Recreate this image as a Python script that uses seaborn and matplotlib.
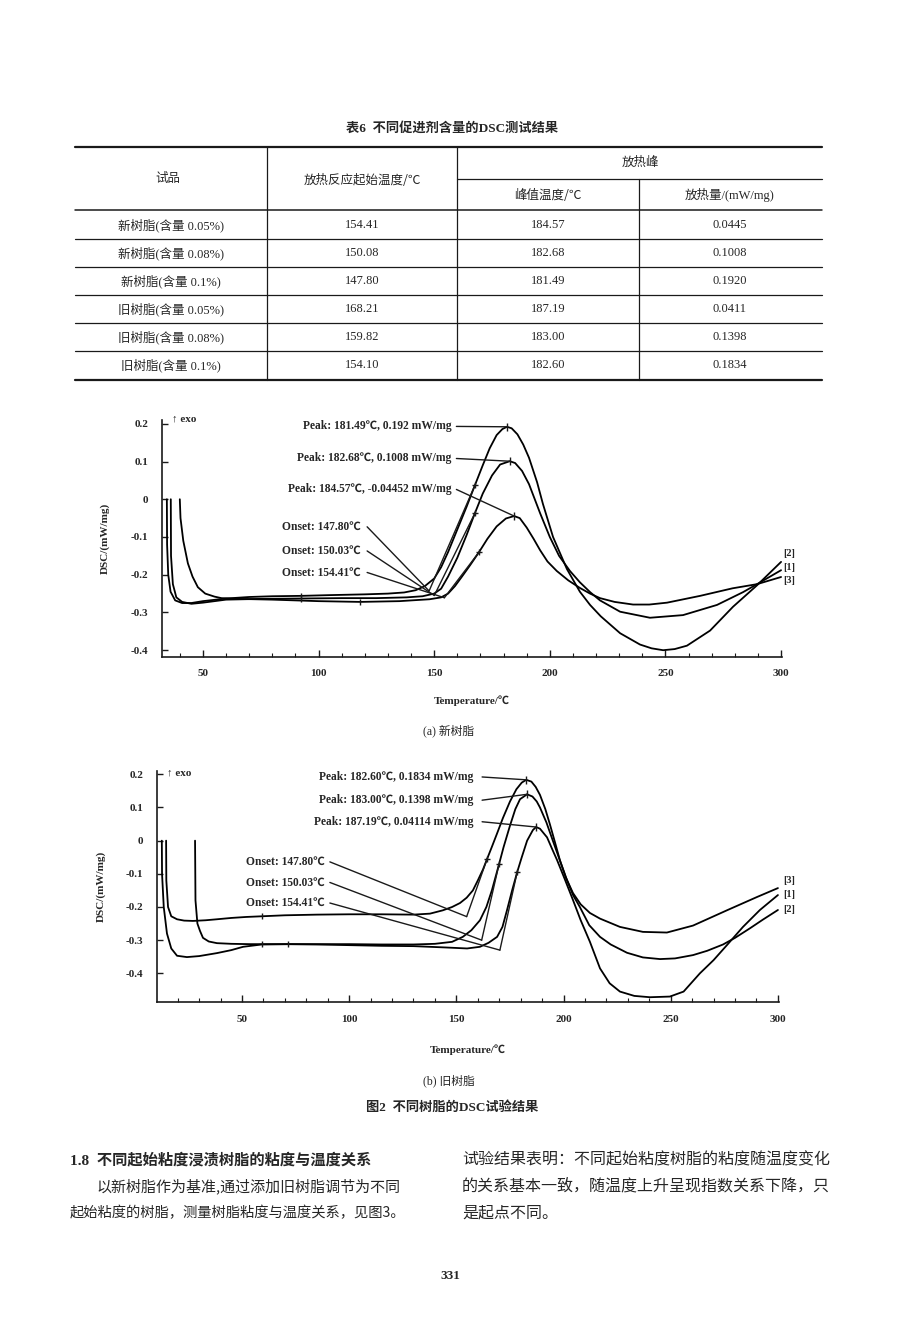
import numpy as np
import pandas as pd
import matplotlib
matplotlib.use("Agg")
import matplotlib.pyplot as plt
import seaborn as sns

# ---- table 6 data ----
samples = ["新树脂(含量 0.05%)", "新树脂(含量 0.08%)", "新树脂(含量 0.1%)",
           "旧树脂(含量 0.05%)", "旧树脂(含量 0.08%)", "旧树脂(含量 0.1%)"]
onset_temp = [154.41, 150.08, 147.80, 168.21, 159.82, 154.10]
peak_temp = [184.57, 182.68, 181.49, 187.19, 183.00, 182.60]
heat_flow = [0.0445, 0.1008, 0.1920, 0.0411, 0.1398, 0.1834]

# ---- (a) new resin DSC curves ----
a_T_01 = [34.4, 34.5, 35.0, 36.0, 38.0, 41.0, 45.0, 50.0, 60.0, 70.0, 80.0, 92.4, 105.0, 120.0, 130.0,
          137.0, 142.0, 146.0, 150.0, 153.0, 156.0, 160.0, 164.0, 167.6, 171.0, 174.0, 177.0, 179.5,
          181.49, 183.5, 186.0, 188.5, 191.0, 194.5, 197.0, 201.4, 207.4, 213.0, 217.4, 222.0, 230.4,
          239.0, 244.0, 249.0, 254.0, 259.3, 269.3, 279.2, 289.6, 300.0]
a_D_01 = [0.0, -0.12, -0.2, -0.245, -0.268, -0.275, -0.275, -0.27, -0.263, -0.259, -0.257, -0.256, -0.254,
          -0.252, -0.25, -0.247, -0.241, -0.23, -0.21, -0.18, -0.14, -0.08, -0.02, 0.037, 0.09, 0.135, 0.17,
          0.186, 0.192, 0.188, 0.172, 0.145, 0.11, 0.045, -0.012, -0.1, -0.185, -0.245, -0.28, -0.31, -0.355,
          -0.385, -0.395, -0.4, -0.397, -0.388, -0.348, -0.285, -0.228, -0.166]
a_T_008 = [36.1, 36.2, 37.0, 38.5, 41.0, 45.0, 50.0, 60.0, 75.0, 92.4, 110.0, 125.0, 138.0, 145.0, 150.0,
           153.0, 156.0, 160.0, 164.0, 167.6, 171.0, 175.0, 178.5, 182.68, 185.0, 188.0, 191.0, 195.8, 200.0,
           204.0, 208.7, 213.0, 217.4, 221.7, 230.4, 243.3, 257.6, 272.3, 283.6, 289.6, 300.0]
a_D_008 = [0.0, -0.15, -0.225, -0.26, -0.272, -0.277, -0.274, -0.266, -0.264, -0.263, -0.262, -0.262, -0.26,
           -0.257, -0.25, -0.237, -0.205, -0.155, -0.095, -0.037, 0.015, 0.063, 0.092, 0.1008, 0.096, 0.075,
           0.04, -0.037, -0.1, -0.15, -0.19, -0.22, -0.246, -0.268, -0.298, -0.314, -0.307, -0.28, -0.246,
           -0.225, -0.188]
a_T_005 = [40.0, 40.3, 41.5, 43.5, 45.5, 47.8, 51.0, 55.0, 58.0, 65.0, 80.0, 100.0, 118.0, 135.0, 148.0,
           153.0, 156.0, 159.0, 162.0, 165.5, 169.4, 173.0, 177.0, 181.0, 184.57, 187.0, 190.0, 193.0, 195.8,
           199.0, 203.0, 208.0, 213.0, 217.4, 221.7, 228.0, 236.0, 243.0, 250.7, 265.0, 279.0, 289.6, 300.0]
a_D_005 = [0.0, -0.05, -0.11, -0.17, -0.205, -0.233, -0.25, -0.258, -0.262, -0.264, -0.266, -0.27, -0.272,
           -0.27, -0.265, -0.26, -0.25, -0.23, -0.205, -0.175, -0.14, -0.105, -0.072, -0.051, -0.0445, -0.05,
           -0.075, -0.105, -0.135, -0.165, -0.19, -0.215, -0.235, -0.25, -0.262, -0.272, -0.279, -0.279,
           -0.274, -0.256, -0.236, -0.225, -0.206]

a_base_T = [92.4, 92.4, 118.0]
a_base_D = [-0.256, -0.263, -0.272]
a_infl_T = [167.6, 167.6, 169.4]
a_infl_D = [0.037, -0.037, -0.14]
a_peak_T = [181.49, 182.68, 184.57]
a_peak_D = [0.192, 0.1008, -0.04452]
a_onset_T = [147.80, 150.03, 154.41]
a_onset_D = [-0.243, -0.255, -0.261]
a_peak_lbl = ["Peak: 181.49℃, 0.192 mW/mg", "Peak: 182.68℃, 0.1008 mW/mg", "Peak: 184.57℃, -0.04452 mW/mg"]
a_onset_lbl = ["Onset: 147.80℃", "Onset: 150.03℃", "Onset: 154.41℃"]
a_end_lbl = ["[2]", "[1]", "[3]"]

# ---- (b) old resin DSC curves ----
b_T_01 = [14.6, 14.7, 15.5, 17.0, 19.7, 23.0, 27.1, 33.0, 38.3, 45.0, 52.0, 59.2, 70.0, 85.0, 100.0, 115.0,
          130.0, 137.7, 143.7, 148.0, 151.7, 154.8, 157.7, 160.0, 162.4, 164.4, 166.6, 169.0, 171.7, 175.0,
          178.0, 180.5, 182.6, 185.0, 187.0, 189.0, 191.5, 193.6, 196.0, 198.3, 201.0, 204.4, 208.0, 212.3,
          217.0, 226.3, 237.0, 248.2, 260.4, 276.2, 290.2, 300.0]
b_D_01 = [0.0, -0.12, -0.2, -0.228, -0.237, -0.241, -0.242, -0.24, -0.237, -0.233, -0.23, -0.228, -0.225,
          -0.223, -0.222, -0.222, -0.223, -0.22, -0.21, -0.2, -0.188, -0.172, -0.15, -0.12, -0.087, -0.054,
          -0.018, 0.022, 0.068, 0.118, 0.155, 0.175, 0.1834, 0.178, 0.162, 0.138, 0.095, 0.05, -0.005, -0.059,
          -0.11, -0.158, -0.192, -0.218, -0.235, -0.26, -0.275, -0.277, -0.256, -0.21, -0.17, -0.143]
b_T_008 = [28.1, 28.3, 29.2, 30.4, 31.8, 34.5, 38.3, 45.0, 53.7, 60.0, 71.6, 85.0, 100.0, 115.0, 130.0,
           140.0, 148.0, 153.0, 157.0, 161.0, 164.0, 166.6, 169.9, 172.0, 175.0, 177.5, 179.7, 183.0, 185.5,
           187.5, 189.0, 192.0, 195.0, 198.3, 201.6, 204.5, 207.6, 212.0, 217.0, 222.0, 229.6, 237.0, 245.0,
           252.0, 260.4, 267.0, 274.4, 280.0, 287.0, 293.0, 300.0]
b_D_008 = [0.0, -0.18, -0.25, -0.272, -0.293, -0.304, -0.309, -0.311, -0.312, -0.312, -0.312, -0.312, -0.312,
           -0.313, -0.313, -0.311, -0.305, -0.29, -0.27, -0.24, -0.2, -0.149, -0.071, -0.02, 0.045, 0.095,
           0.125, 0.1398, 0.133, 0.118, 0.1, 0.055, 0.0, -0.06, -0.119, -0.165, -0.2, -0.255, -0.29, -0.313,
           -0.338, -0.352, -0.357, -0.355, -0.345, -0.332, -0.313, -0.293, -0.264, -0.238, -0.209]
b_T_005 = [12.6, 12.7, 13.5, 15.0, 17.0, 19.7, 24.3, 30.0, 38.3, 45.0, 50.5, 59.2, 71.6, 85.0, 100.0, 115.0,
           130.0, 145.0, 155.0, 161.0, 165.0, 169.0, 171.5, 173.6, 176.0, 178.4, 180.5, 183.0, 185.7, 187.19,
           189.0, 192.3, 195.0, 197.0, 200.5, 204.4, 208.0, 212.3, 217.0, 221.5, 226.3, 233.0, 240.3, 249.6,
           256.0, 263.6, 270.0, 276.2, 283.7, 291.6, 300.0]
b_D_005 = [0.0, -0.1, -0.2, -0.28, -0.325, -0.347, -0.351, -0.348, -0.339, -0.33, -0.32, -0.313, -0.312,
           -0.313, -0.315, -0.317, -0.318, -0.322, -0.325, -0.32, -0.308, -0.29, -0.26, -0.21, -0.15, -0.094,
           -0.05, 0.0, 0.032, 0.0411, 0.036, 0.01, -0.03, -0.059, -0.115, -0.179, -0.24, -0.305, -0.385, -0.43,
           -0.455, -0.468, -0.472, -0.47, -0.455, -0.4, -0.36, -0.315, -0.26, -0.209, -0.164]

b_base_T = [59.2, 59.2, 71.6]
b_base_D = [-0.228, -0.312, -0.312]
b_infl_T = [164.4, 169.9, 178.4]
b_infl_D = [-0.054, -0.071, -0.094]
b_peak_T = [182.60, 183.00, 187.19]
b_peak_D = [0.1834, 0.1398, 0.04114]
b_onset_T = [154.8, 161.8, 170.3]
b_onset_D = [-0.229, -0.300, -0.330]
b_peak_lbl = ["Peak: 182.60℃, 0.1834 mW/mg", "Peak: 183.00℃, 0.1398 mW/mg", "Peak: 187.19℃, 0.04114 mW/mg"]
b_onset_lbl = ["Onset: 147.80℃", "Onset: 150.03℃", "Onset: 154.41℃"]
b_end_lbl = ["[3]", "[1]", "[2]"]

sns.set_theme(style="white")
plt.rcParams["font.family"] = ["Liberation Serif", "Noto Sans CJK SC", "DejaVu Sans"]
cjk = ["Noto Sans CJK SC", "DejaVu Sans"]

W, H = 920, 1343
fig = plt.figure(figsize=(W / 100, H / 100), dpi=100)
page = fig.add_axes([0, 0, 1, 1])
page.set_xlim(0, W)
page.set_ylim(H, 0)
page.axis("off")

# ---- table ----
page.text(452, 128, "表6  不同促进剂含量的DSC测试结果", ha="center", va="center", fontsize=9.5, fontweight="bold")
page.plot([75, 822], [147, 147], color="k", lw=1.6)
page.plot([457, 822], [179, 179], color="k", lw=0.9)
page.plot([75, 822], [210, 210], color="k", lw=1.1)
page.plot([75, 822], [380, 380], color="k", lw=1.6)
for xv in [267, 457]:
    page.plot([xv, xv], [147, 380], color="k", lw=0.9)
page.plot([639, 639], [179, 380], color="k", lw=0.9)
page.text(168, 178, "试品", ha="center", va="center", fontsize=9, family=cjk)
page.text(362, 180, "放热反应起始温度/℃", ha="center", va="center", fontsize=9, family=cjk)
page.text(640, 162, "放热峰", ha="center", va="center", fontsize=9, family=cjk)
page.text(548, 195, "峰值温度/℃", ha="center", va="center", fontsize=9, family=cjk)
page.text(730, 195, "放热量/(mW/mg)", ha="center", va="center", fontsize=9)
for i, name in enumerate(samples):
    yc = 225 + 28 * i
    page.text(171, yc, name, ha="center", va="center", fontsize=9)
    page.text(362, yc, f"{onset_temp[i]:.2f}", ha="center", va="center", fontsize=9)
    page.text(548, yc, f"{peak_temp[i]:.2f}", ha="center", va="center", fontsize=9)
    page.text(730, yc, f"{heat_flow[i]:.4f}", ha="center", va="center", fontsize=9)
    if i < len(samples) - 1:
        page.plot([75, 822], [yc + 14, yc + 14], color="k", lw=0.9)


def px_box(left, top, right, bottom):
    return [left / W, 1 - bottom / H, (right - left) / W, (bottom - top) / H]


def draw_dsc(ax, curves, base, infl, peaks, onsets, peak_lbl, onset_lbl, end_lbl,
             peak_tx, peak_ly, onset_tx, onset_ly, end_x, end_y, exo_xy, minor_start):
    ax.set_facecolor("none")
    for T, D in curves:
        df = pd.DataFrame({"T": T, "DSC": D})
        sns.lineplot(data=df, x="T", y="DSC", sort=False, estimator=None, color="black", lw=1.3, ax=ax)
    ax.plot(base[0], base[1], ls="none", marker="|", ms=5, mew=1.0, color="k")
    ax.plot(infl[0], infl[1], ls="none", marker="+", ms=5, mew=1.0, color="k")
    ax.plot(peaks[0], peaks[1], ls="none", marker="|", ms=6, mew=1.0, color="k")
    # onset tangents and labels
    for i in range(3):
        ax.plot([onsets[0][i], infl[0][i]], [onsets[1][i], infl[1][i]], color="k", lw=1.0)
        ax.text(onset_tx[0], onset_ly[i], onset_lbl[i], ha="right", va="center", fontsize=8.3, fontweight="bold")
        ax.plot([onset_tx[1], onsets[0][i]], [onset_ly[i], onsets[1][i]], color="k", lw=1.0)
        ax.text(peak_tx[0], peak_ly[i], peak_lbl[i], ha="right", va="center", fontsize=8.3, fontweight="bold")
        ax.plot([peak_tx[1], peaks[0][i]], [peak_ly[i], peaks[1][i]], color="k", lw=1.0)
        ax.text(end_x, end_y[i], end_lbl[i], ha="left", va="center", fontsize=7.5, fontweight="bold", clip_on=False)
    ax.text(exo_xy[0], exo_xy[1], "↑ exo", ha="left", va="center", fontsize=8, fontweight="bold")

    sns.despine(ax=ax)
    ax.spines["left"].set_linewidth(1.2)
    ax.spines["bottom"].set_linewidth(1.2)
    ax.spines["left"].set_color("k")
    ax.spines["bottom"].set_color("k")
    ax.set_xticks([50, 100, 150, 200, 250, 300])
    ax.set_xticks(np.arange(minor_start, 301, 10), minor=True)
    ax.set_yticks([0.2, 0.1, 0, -0.1, -0.2, -0.3, -0.4])
    ax.set_yticklabels(["0.2", "0.1", "0", "-0.1", "-0.2", "-0.3", "-0.4"])
    ax.tick_params(axis="x", which="major", direction="in", length=5, width=1, pad=9, labelsize=8,
                   bottom=True, color="k")
    ax.tick_params(axis="x", which="minor", direction="in", length=3, width=0.8, bottom=True, color="k")
    ax.tick_params(axis="y", direction="in", length=4, width=1, pad=10, labelsize=8, left=True, color="k")
    for lab in ax.get_xticklabels() + ax.get_yticklabels():
        lab.set_fontweight("bold")
    ax.set_xlabel("Temperature/℃", fontsize=8, fontweight="bold")
    ax.set_ylabel("DSC/(mW/mg)", fontsize=8, fontweight="bold")
    ax.grid(False)


# ---- chart (a) ----
ax_a = fig.add_axes(px_box(162, 420, 782, 657))
ax_a.set_xlim(32.3, 300.4)
ax_a.set_ylim(-0.418, 0.21)
draw_dsc(ax_a, [(a_T_01, a_D_01), (a_T_008, a_D_008), (a_T_005, a_D_005)],
         (a_base_T, a_base_D), (a_infl_T, a_infl_D), (a_peak_T, a_peak_D), (a_onset_T, a_onset_D),
         a_peak_lbl, a_onset_lbl, a_end_lbl,
         (157.5, 159.6), [0.193, 0.108, 0.026], (118.3, 121.0), [-0.073, -0.137, -0.194],
         301.0, [-0.143, -0.180, -0.214], (36.6, 0.212), 40)
ax_a.xaxis.set_label_coords(0.5, -0.16)
ax_a.yaxis.set_label_coords(-0.084, 0.5)

# ---- chart (b) ----
ax_b = fig.add_axes(px_box(157, 771, 779, 1002))
ax_b.set_xlim(10.35, 300.5)
ax_b.set_ylim(-0.4864, 0.21)
draw_dsc(ax_b, [(b_T_01, b_D_01), (b_T_008, b_D_008), (b_T_005, b_D_005)],
         (b_base_T, b_base_D), (b_infl_T, b_infl_D), (b_peak_T, b_peak_D), (b_onset_T, b_onset_D),
         b_peak_lbl, b_onset_lbl, b_end_lbl,
         (158.0, 162.0), [0.192, 0.122, 0.057], (88.7, 91.0), [-0.064, -0.126, -0.188],
         302.5, [-0.119, -0.161, -0.209], (15.0, 0.205), 20)
ax_b.xaxis.set_label_coords(0.5, -0.185)
ax_b.yaxis.set_label_coords(-0.082, 0.5)

# ---- captions ----
page.text(449, 731, "(a) 新树脂", ha="center", va="center", fontsize=8.5)
page.text(449, 1081, "(b) 旧树脂", ha="center", va="center", fontsize=8.5)
page.text(452, 1108, "图2  不同树脂的DSC试验结果", ha="center", va="center", fontsize=9.5, fontweight="bold")

# ---- body text ----
page.text(70, 1160, "1.8  不同起始粘度浸渍树脂的粘度与温度关系", ha="left", va="center", fontsize=11, fontweight="bold")
page.text(97, 1186, "以新树脂作为基准,通过添加旧树脂调节为不同", ha="left", va="center", fontsize=10.8, family=cjk)
page.text(70, 1213, "起始粘度的树脂，测量树脂粘度与温度关系，见图3。", ha="left", va="center", fontsize=10.3, family=cjk)
page.text(462, 1160, "试验结果表明：不同起始粘度树脂的粘度随温度变化", ha="left", va="center", fontsize=11.5, family=cjk)
page.text(462, 1186, "的关系基本一致，随温度上升呈现指数关系下降，只", ha="left", va="center", fontsize=11.5, family=cjk)
page.text(462, 1213, "是起点不同。", ha="left", va="center", fontsize=11.5, family=cjk)
page.text(450, 1276, "331", ha="center", va="center", fontsize=9.5, fontweight="bold")

fig.savefig("out.png", dpi=100)
